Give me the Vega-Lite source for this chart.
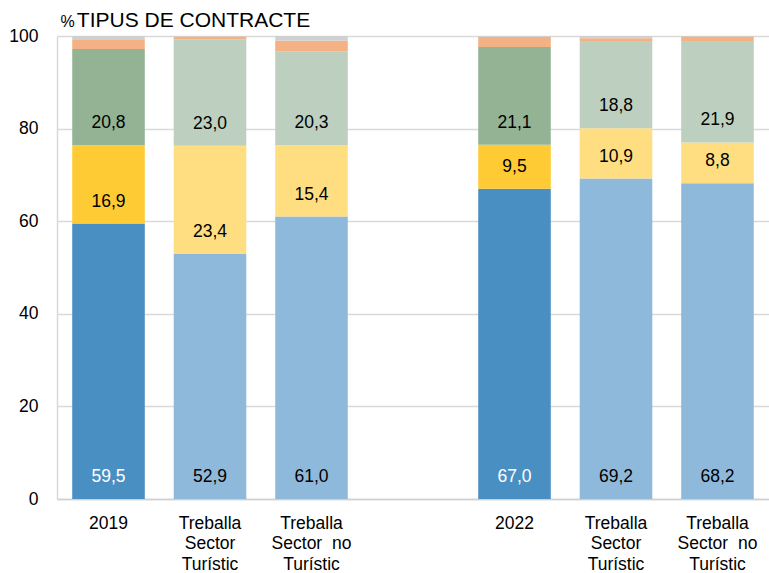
{
  "$schema": "https://vega.github.io/schema/vega-lite/v6.json",
  "width": 712,
  "height": 463,
  "autosize": "none",
  "padding": {"left": 57, "top": 36, "right": 0, "bottom": 74},
  "background": "white",
  "title": {
    "text": "TIPUS DE CONTRACTE",
    "anchor": "start",
    "dx": 68,
    "offset": -18,
    "font": "Liberation Sans",
    "fontSize": 21,
    "fontWeight": "normal",
    "color": "#000000"
  },
  "config": {
    "view": {"stroke": null},
    "font": "Liberation Sans"
  },
  "data": {
    "values": [
      {"k": "2019", "nivell": "total", "tipus": "Indefinit", "ordre": 1, "v": 59.5},
      {"k": "2019", "nivell": "total", "tipus": "Fix discontinu", "ordre": 2, "v": 16.9},
      {"k": "2019", "nivell": "total", "tipus": "Temporal", "ordre": 3, "v": 20.8},
      {"k": "2019", "nivell": "total", "tipus": "Altres", "ordre": 4, "v": 2.1},
      {"k": "2019", "nivell": "total", "tipus": "NS/NC", "ordre": 5, "v": 0.7},
      {"k": "A19", "nivell": "sector", "tipus": "Indefinit", "ordre": 1, "v": 52.9},
      {"k": "A19", "nivell": "sector", "tipus": "Fix discontinu", "ordre": 2, "v": 23.4},
      {"k": "A19", "nivell": "sector", "tipus": "Temporal", "ordre": 3, "v": 23.0},
      {"k": "A19", "nivell": "sector", "tipus": "Altres", "ordre": 4, "v": 0.6},
      {"k": "A19", "nivell": "sector", "tipus": "NS/NC", "ordre": 5, "v": 0.1},
      {"k": "B19", "nivell": "sector", "tipus": "Indefinit", "ordre": 1, "v": 61.0},
      {"k": "B19", "nivell": "sector", "tipus": "Fix discontinu", "ordre": 2, "v": 15.4},
      {"k": "B19", "nivell": "sector", "tipus": "Temporal", "ordre": 3, "v": 20.3},
      {"k": "B19", "nivell": "sector", "tipus": "Altres", "ordre": 4, "v": 2.3},
      {"k": "B19", "nivell": "sector", "tipus": "NS/NC", "ordre": 5, "v": 1.0},
      {"k": "2022", "nivell": "total", "tipus": "Indefinit", "ordre": 1, "v": 67.0},
      {"k": "2022", "nivell": "total", "tipus": "Fix discontinu", "ordre": 2, "v": 9.5},
      {"k": "2022", "nivell": "total", "tipus": "Temporal", "ordre": 3, "v": 21.1},
      {"k": "2022", "nivell": "total", "tipus": "Altres", "ordre": 4, "v": 2.2},
      {"k": "2022", "nivell": "total", "tipus": "NS/NC", "ordre": 5, "v": 0.2},
      {"k": "A22", "nivell": "sector", "tipus": "Indefinit", "ordre": 1, "v": 69.2},
      {"k": "A22", "nivell": "sector", "tipus": "Fix discontinu", "ordre": 2, "v": 10.9},
      {"k": "A22", "nivell": "sector", "tipus": "Temporal", "ordre": 3, "v": 18.8},
      {"k": "A22", "nivell": "sector", "tipus": "Altres", "ordre": 4, "v": 0.6},
      {"k": "A22", "nivell": "sector", "tipus": "NS/NC", "ordre": 5, "v": 0.5},
      {"k": "B22", "nivell": "sector", "tipus": "Indefinit", "ordre": 1, "v": 68.2},
      {"k": "B22", "nivell": "sector", "tipus": "Fix discontinu", "ordre": 2, "v": 8.8},
      {"k": "B22", "nivell": "sector", "tipus": "Temporal", "ordre": 3, "v": 21.9},
      {"k": "B22", "nivell": "sector", "tipus": "Altres", "ordre": 4, "v": 1.0},
      {"k": "B22", "nivell": "sector", "tipus": "NS/NC", "ordre": 5, "v": 0.1}
    ]
  },
  "transform": [
    {"stack": "v", "groupby": ["k"], "sort": [{"field": "ordre", "order": "ascending"}], "as": ["v0", "v1"]},
    {"calculate": "datum.nivell + '|' + datum.tipus", "as": "serie"},
    {"calculate": "replace(format(datum.v, '.1f'), '.', ',')", "as": "etiqueta"}
  ],
  "encoding": {
    "x": {
      "field": "k",
      "type": "nominal",
      "sort": null,
      "scale": {
        "domain": ["2019", "A19", "B19", "gap", "2022", "A22", "B22"],
        "paddingInner": 0.285,
        "paddingOuter": 0.15
      },
      "axis": {
        "title": null,
        "labelAngle": 0,
        "labelExpr": "datum.value == 'gap' ? '' : (datum.value == '2019' || datum.value == '2022') ? datum.value : (indexof(datum.value, 'A') == 0 ? ['Treballa', 'Sector', 'Turístic'] : ['Treballa', 'Sector\u00a0 no', 'Turístic'])",
        "labelFont": "Liberation Sans",
        "labelFontSize": 17.5,
        "labelColor": "#000000",
        "labelPadding": 15,
        "labelLineHeight": 20.5,
        "labelBaseline": "top",
        "ticks": false,
        "domain": true,
        "domainColor": "#D0D0D0",
        "domainWidth": 1.5,
        "grid": false
      }
    }
  },
  "layer": [
    {
      "mark": {"type": "bar", "stroke": null},
      "encoding": {
        "y": {
          "field": "v0",
          "type": "quantitative",
          "scale": {"domain": [0, 100], "nice": false},
          "axis": {
            "title": "%",
            "titleAngle": 0,
            "titleFont": "Liberation Sans",
            "titleFontSize": 16,
            "titleFontWeight": "normal",
            "titleColor": "#000000",
            "titleAlign": "left",
            "titleBaseline": "alphabetic",
            "titleX": 3,
            "titleY": -10,
            "values": [0, 20, 40, 60, 80, 100],
            "labelFont": "Liberation Sans",
            "labelFontSize": 17.5,
            "labelColor": "#000000",
            "labelPadding": 19,
            "ticks": false,
            "domain": true,
            "domainColor": "#D9D9D9",
            "domainWidth": 1.5,
            "grid": true,
            "gridColor": "#D9D9D9",
            "gridWidth": 1.5
          }
        },
        "y2": {"field": "v1"},
        "color": {
          "field": "serie",
          "type": "nominal",
          "legend": null,
          "scale": {
            "domain": [
              "total|Indefinit", "total|Fix discontinu", "total|Temporal", "total|Altres", "total|NS/NC",
              "sector|Indefinit", "sector|Fix discontinu", "sector|Temporal", "sector|Altres", "sector|NS/NC"
            ],
            "range": [
              "#4A8FC2", "#FFCB35", "#93B394", "#F4B183", "#D0D0D0",
              "#8FB9DA", "#FFDE82", "#BDD0C0", "#F4B183", "#D0D0D0"
            ]
          }
        }
      }
    },
    {
      "transform": [{"filter": "datum.ordre <= 3"}],
      "mark": {"type": "text", "font": "Liberation Sans", "fontSize": 17.5, "baseline": "middle", "align": "center", "dy": -22},
      "encoding": {
        "y": {"field": "v0", "type": "quantitative"},
        "text": {"field": "etiqueta"},
        "color": {
          "condition": {"test": "datum.nivell == 'total' && datum.ordre == 1", "value": "#FFFFFF"},
          "value": "#000000"
        }
      }
    }
  ]
}
